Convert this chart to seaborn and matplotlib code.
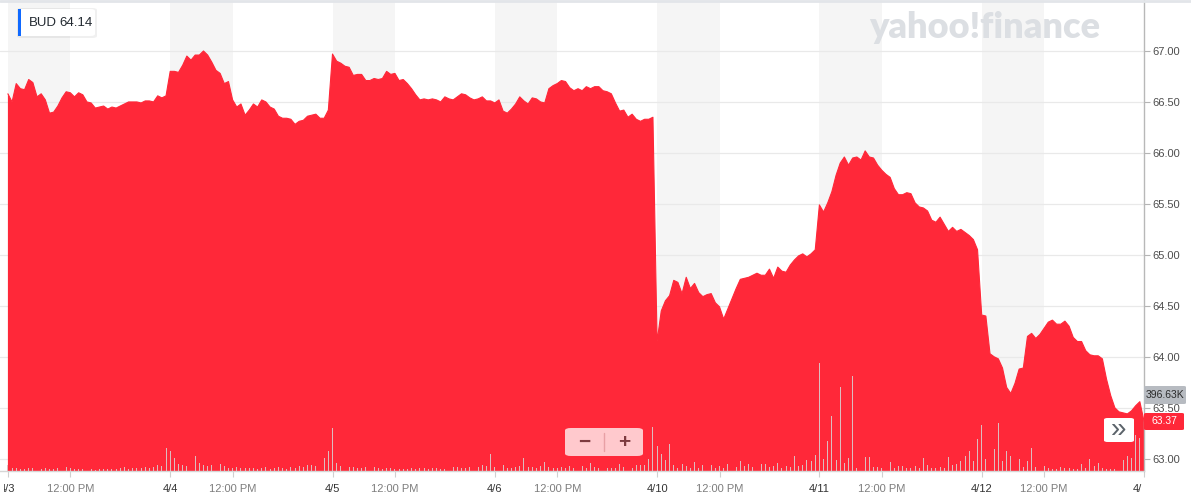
import pandas as pd
import seaborn as sns
import matplotlib.pyplot as plt
from matplotlib.patches import FancyBboxPatch, Rectangle
from matplotlib.lines import Line2D
from matplotlib.transforms import Bbox

# sessions shown on the chart (10-minute samples, 9:30 -> 16:00)
days = ["4/3", "4/4", "4/5", "4/6", "4/10", "4/11", "4/12"]
next_day = "4/13"
ticker = "BUD"
hover_price = "64.14"

price_4_3 = [66.58, 66.50, 66.68, 66.63, 66.62, 66.72, 66.69, 66.55, 66.58, 66.52,
             66.39, 66.40, 66.46, 66.54, 66.60, 66.59, 66.55, 66.59, 66.57, 66.50,
             66.49, 66.44, 66.45, 66.46, 66.43, 66.45, 66.44, 66.46, 66.48, 66.50,
             66.50, 66.50, 66.49, 66.51, 66.51, 66.50, 66.56, 66.54, 66.56]
price_4_4 = [66.80, 66.80, 66.79, 66.86, 66.95, 66.91, 66.96, 66.96, 67.00, 66.96,
             66.89, 66.81, 66.78, 66.68, 66.70, 66.52, 66.45, 66.48, 66.37, 66.42,
             66.48, 66.45, 66.52, 66.50, 66.45, 66.43, 66.36, 66.34, 66.34, 66.33,
             66.28, 66.31, 66.32, 66.36, 66.37, 66.38, 66.34, 66.34, 66.42]
price_4_5 = [66.97, 66.90, 66.88, 66.85, 66.84, 66.76, 66.77, 66.77, 66.71, 66.71,
             66.73, 66.72, 66.73, 66.80, 66.77, 66.78, 66.71, 66.72, 66.68, 66.63,
             66.57, 66.52, 66.53, 66.52, 66.53, 66.52, 66.50, 66.55, 66.53, 66.52,
             66.55, 66.58, 66.57, 66.54, 66.52, 66.53, 66.55, 66.51, 66.51]
price_4_6 = [66.49, 66.52, 66.41, 66.39, 66.43, 66.48, 66.55, 66.51, 66.48, 66.54,
             66.53, 66.50, 66.49, 66.63, 66.66, 66.68, 66.71, 66.70, 66.64, 66.61,
             66.63, 66.61, 66.65, 66.63, 66.65, 66.65, 66.61, 66.60, 66.58, 66.49,
             66.41, 66.42, 66.35, 66.38, 66.33, 66.31, 66.33, 66.33, 66.35]
price_4_10 = [64.15, 64.45, 64.55, 64.60, 64.75, 64.73, 64.62, 64.78, 64.67, 64.72,
              64.63, 64.59, 64.61, 64.62, 64.53, 64.49, 64.37, 64.47, 64.57, 64.67,
              64.76, 64.77, 64.78, 64.80, 64.82, 64.80, 64.80, 64.86, 64.77, 64.88,
              64.84, 64.83, 64.90, 64.95, 64.99, 65.01, 64.98, 65.01, 65.05]
price_4_11 = [65.49, 65.42, 65.51, 65.62, 65.78, 65.90, 65.96, 65.88, 65.95, 65.96,
              65.93, 66.02, 65.96, 65.95, 65.88, 65.83, 65.79, 65.76, 65.65, 65.59,
              65.59, 65.61, 65.60, 65.51, 65.47, 65.46, 65.43, 65.34, 65.32, 65.37,
              65.30, 65.23, 65.27, 65.23, 65.25, 65.22, 65.19, 65.15, 65.05]
price_4_12 = [64.41, 64.40, 64.03, 64.00, 63.98, 63.89, 63.70, 63.64, 63.74, 63.88,
              63.89, 64.20, 64.23, 64.18, 64.22, 64.28, 64.34, 64.36, 64.32, 64.32,
              64.35, 64.30, 64.19, 64.15, 64.15, 64.06, 64.02, 64.01, 64.01, 63.98,
              63.78, 63.62, 63.50, 63.46, 63.45, 63.44, 63.47, 63.52, 63.56, 63.37]

# volume in thousands of shares
vol_4_3 = [25, 13, 13, 8, 8, 13, 13, 59, 8, 13, 8, 8, 13, 21, 17, 13, 8, 8, 8, 13,
           8, 4, 8, 8, 8, 8, 8, 13, 17, 8, 13, 13, 13, 17, 13, 17, 25, 21, 97]
vol_4_4 = [84, 55, 29, 25, 21, 17, 63, 34, 25, 21, 25, 17, 29, 21, 13, 13, 17, 13, 13, 13,
           13, 8, 13, 17, 8, 13, 17, 13, 8, 17, 13, 21, 17, 25, 25, 21, 38, 55, 84]
vol_4_5 = [181, 34, 21, 80, 17, 17, 13, 13, 17, 13, 17, 13, 8, 13, 13, 8, 8, 8, 8, 13,
           8, 13, 13, 8, 13, 13, 8, 8, 13, 17, 17, 13, 13, 17, 13, 17, 25, 21, 71]
vol_4_6 = [17, 21, 25, 13, 13, 17, 21, 55, 17, 17, 13, 21, 38, 17, 13, 13, 17, 13, 21, 13,
           13, 21, 13, 34, 17, 13, 25, 13, 13, 13, 29, 17, 17, 13, 25, 25, 25, 50, 185]
vol_4_10 = [105, 71, 46, 113, 25, 13, 29, 21, 13, 38, 13, 25, 34, 25, 13, 21, 13, 29, 29, 17,
            42, 21, 29, 17, 34, 29, 29, 17, 21, 34, 13, 21, 17, 63, 21, 25, 46, 42, 67]
vol_4_11 = [454, 50, 126, 231, 46, 353, 34, 55, 399, 13, 25, 59, 59, 17, 17, 13, 17, 38, 13, 21,
            21, 13, 13, 21, 13, 55, 25, 13, 13, 17, 13, 59, 25, 29, 42, 63, 84, 42, 134]
vol_4_12 = [193, 50, 21, 92, 202, 42, 84, 63, 42, 50, 17, 42, 97, 17, 25, 21, 13, 8, 8, 17,
            13, 13, 8, 8, 29, 13, 50, 21, 34, 13, 8, 8, 8, 13, 46, 63, 55, 151, 139, 396.63]

prices = [price_4_3, price_4_4, price_4_5, price_4_6, price_4_10, price_4_11, price_4_12]
volumes = [vol_4_3, vol_4_4, vol_4_5, vol_4_6, vol_4_10, vol_4_11, vol_4_12]

SESSION = 390  # minutes per trading day
rows = []
for i, (day, p, v) in enumerate(zip(days, prices, volumes)):
    for k, (pp, vv) in enumerate(zip(p, v)):
        rows.append({"day": day, "t": i * SESSION + k * 10, "price": pp, "volume": vv})
df = pd.DataFrame(rows)

RED = "#ff2839"
W, H = 1191, 499

sns.set_theme(style="white")
plt.rcParams["font.family"] = ["Liberation Sans", "DejaVu Sans"]

fig = plt.figure(figsize=(W / 100, H / 100), dpi=100, facecolor="white")
ax = fig.add_axes([0, 28 / H, 1144 / W, 471 / H])
ax2 = ax.twinx()

ymin, ymax = 62.88, 67.5
ax.set_xlim(-19, len(days) * SESSION)
ax.set_ylim(ymin, ymax)

# morning shading (open -> 12:00 PM)
for i in range(len(days)):
    ax.axvspan(i * SESSION, i * SESSION + 150, color="#f5f5f5", lw=0, zorder=0)

yticks = [63.0, 63.5, 64.0, 64.5, 65.0, 65.5, 66.0, 66.5, 67.0]
for y in yticks:
    ax.axhline(y, color="#e9e9e9", lw=0.9, zorder=0.5)

ax.fill_between(df["t"], df["price"], ymin - 1, color=RED, lw=0, zorder=2)
sns.lineplot(data=df, x="t", y="price", ax=ax, color=RED, lw=0.8, zorder=3, legend=False)

# volume bars
ax2.set_ylim(0, 471 * 4.2)
ax2.bar(df["t"], df["volume"], width=2.2, color="#dcbcbf", lw=0, zorder=3)
ax2.axis("off")

# axes styling
ax.yaxis.tick_right()
ax.set_yticks(yticks)
ax.set_yticklabels([f"{y:.2f}" for y in yticks])
ax.tick_params(axis="y", right=True, left=False, length=4, width=0.8, color="#b5b5b5",
               labelsize=8, labelcolor="#4d4d4d", pad=2)

xt, xl = [], []
for i, d in enumerate(days):
    xt += [i * SESSION, i * SESSION + 150]
    xl += [d, "12:00 PM"]
xt.append(len(days) * SESSION)
xl.append(next_day)
ax.set_xticks(xt)
ax.set_xticklabels(xl)
ax.tick_params(axis="x", bottom=True, length=4, width=0.8, color="#cfcfcf",
               labelsize=8, pad=5)
for lab in ax.get_xticklabels():
    lab.set_color("#7d7d7d" if lab.get_text().endswith("PM") else "#333333")

ax.set_xlabel("")
ax.set_ylabel("")
for s in ["top", "left"]:
    ax.spines[s].set_visible(False)
ax.spines["right"].set_color("#b8b8b8")
ax.spines["right"].set_linewidth(1)
ax.spines["bottom"].set_color("#d6d6d6")
ax.spines["bottom"].set_linewidth(1)

# clip the x labels at the edges of the plot like the reference
fig.canvas.draw()
clip = Bbox.from_extents(4, 0, 1142, H)
for lab in ax.get_xticklabels():
    lab.set_clip_box(clip)
    lab.set_clip_on(True)


def fx(x):
    return x / W


def fy(y):
    return 1 - y / H


def box(x0, y0, x1, y1, color, rs=0.004, alpha=1.0, z=10):
    p = FancyBboxPatch((fx(x0), fy(y1)), fx(x1) - fx(x0), fy(y0) - fy(y1),
                       boxstyle=f"round,pad=0,rounding_size={rs}",
                       transform=fig.transFigure, facecolor=color, edgecolor="none",
                       alpha=alpha, zorder=z)
    fig.add_artist(p)


# top border
fig.add_artist(Line2D([0, 1], [fy(1), fy(1)], color="#e2e5e9", lw=2, transform=fig.transFigure))

# ticker hover box
box(17, 8, 97, 38, "#000000", alpha=0.06)
box(18, 9, 95, 36, "white")
fig.add_artist(Rectangle((fx(18), fy(36)), fx(3), 27 / H, transform=fig.transFigure,
                         facecolor="#0f69ff", edgecolor="none", zorder=11))
fig.text(fx(29), fy(23), ticker, fontsize=9.5, color="#232a31", va="center", ha="left", zorder=12)
fig.text(fx(59), fy(23), hover_price, fontsize=9.5, color="#232a31", va="center", ha="left", zorder=12)

# watermark
fig.text(fx(985), fy(27), "yahoo!finance", fontsize=26, fontweight="heavy", color="#dcdfe3",
         ha="center", va="center", family=["Lato", "DejaVu Sans"])

# zoom buttons
box(565, 428, 643, 456, "#ffd3d6", rs=0.005, alpha=0.95)
fig.add_artist(Line2D([fx(604), fx(604)], [fy(433), fy(451)], color="#e8a0a5", lw=1,
                      transform=fig.transFigure, zorder=11))
fig.text(fx(584), fy(442), "\u2212", fontsize=15, fontweight="bold", color="#7d3a3f",
         ha="center", va="center", zorder=12)
fig.text(fx(624), fy(442), "+", fontsize=15, fontweight="bold", color="#7d3a3f",
         ha="center", va="center", zorder=12)

# scroll button
box(1104, 418, 1134, 442, "white", rs=0.003)
fig.text(fx(1119), fy(430), "\u00bb", fontsize=20, color="#5b636a", ha="center", va="center", zorder=12)

# last volume / last price tags
box(1144, 386, 1186, 404, "#b7bbc1", rs=0.002)
fig.text(fx(1165), fy(395), f"{vol_4_12[-1]:.2f}K", fontsize=7.5, color="#2b2b2b",
         ha="center", va="center", zorder=12)
box(1144, 413, 1184, 430, RED, rs=0.002)
fig.text(fx(1164), fy(421.5), f"{price_4_12[-1]:.2f}", fontsize=7.5, color="white",
         ha="center", va="center", zorder=12)

fig.savefig("out.png", dpi=100, facecolor="white")
plt.close(fig)
